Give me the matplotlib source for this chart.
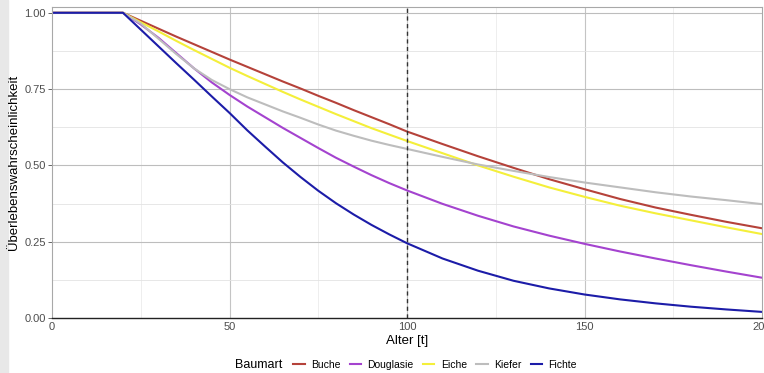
import matplotlib
matplotlib.use("Agg")
import matplotlib.pyplot as plt
from matplotlib.patches import Rectangle

plt.rcParams['font.family'] = ['Liberation Sans', 'DejaVu Sans']

# Alter [Jahre]
alter = [0, 20, 25, 30, 35, 40, 45, 50, 55, 60, 65, 70, 75, 80, 85, 90, 95,
         100, 110, 120, 130, 140, 150, 160, 170, 180, 190, 200]

# Ueberlebenswahrscheinlichkeit je Baumart
buche = [1.0, 1.0, 0.974, 0.948, 0.922, 0.897, 0.872, 0.847, 0.823, 0.799,
         0.775, 0.752, 0.728, 0.705, 0.681, 0.658, 0.635, 0.611,
         0.570, 0.530, 0.492, 0.455, 0.422, 0.390, 0.362, 0.338, 0.315, 0.294]
douglasie = [1.0, 1.0, 0.962, 0.918, 0.868, 0.818, 0.772, 0.731, 0.693,
             0.658, 0.623, 0.590, 0.557, 0.525, 0.496, 0.468, 0.442, 0.418,
             0.374, 0.335, 0.300, 0.270, 0.243, 0.218, 0.195, 0.173, 0.152,
             0.132]
eiche = [1.0, 1.0, 0.969, 0.939, 0.908, 0.878, 0.849, 0.820, 0.793, 0.767,
         0.741, 0.716, 0.692, 0.668, 0.645, 0.622, 0.601, 0.580,
         0.540, 0.500, 0.463, 0.428, 0.397, 0.368, 0.343, 0.320, 0.297, 0.275]
kiefer = [1.0, 1.0, 0.965, 0.915, 0.865, 0.818, 0.780, 0.750, 0.723, 0.700,
          0.677, 0.656, 0.634, 0.614, 0.597, 0.581, 0.567, 0.554,
          0.528, 0.503, 0.482, 0.462, 0.444, 0.428, 0.412, 0.398, 0.386,
          0.373]
fichte = [1.0, 1.0, 0.945, 0.890, 0.835, 0.781, 0.726, 0.672, 0.615, 0.562,
          0.510, 0.462, 0.417, 0.376, 0.339, 0.305, 0.274, 0.245,
          0.195, 0.155, 0.122, 0.097, 0.077, 0.061, 0.048, 0.037, 0.028,
          0.020]

namen = ["Buche", "Douglasie", "Eiche", "Kiefer", "Fichte"]
werte = [buche, douglasie, eiche, kiefer, fichte]
farben = ["#b5423a", "#a443cf", "#f4ef3a", "#bdbdbd", "#1c1ca8"]

fig = plt.figure(figsize=(7.64, 3.73), dpi=100)
ax = fig.add_axes([52/764, 1-318/373, 710/764, 311/373])

# Gitter
for v in [25, 75, 125, 175]:
    ax.axvline(v, color="#ebebeb", lw=0.6, zorder=0)
for v in [50, 100, 150]:
    ax.axvline(v, color="#c4c4c4", lw=0.8, zorder=0)
for v in [0.125, 0.375, 0.625, 0.875]:
    ax.axhline(v, color="#e3e3e3", lw=0.6, zorder=0)
for v in [0.25, 0.5, 0.75, 1.0]:
    ax.axhline(v, color="#bdbdbd", lw=0.8, zorder=0)

for n, w, c in zip(namen, werte, farben):
    ax.plot(alter, w, color=c, lw=1.5, label=n, solid_joinstyle="round")

ax.axvline(100, color="#333333", lw=1.0, ls=(0, (3, 2.5)), zorder=5)

ax.set_xlim(0, 200)
ax.set_ylim(0, 1.019)
ax.set_xticks([0, 50, 100, 150, 200])
ax.set_yticks([0, 0.25, 0.5, 0.75, 1.0])
ax.set_yticklabels(["0.00", "0.25", "0.50", "0.75", "1.00"])
ax.tick_params(axis="both", labelsize=8, colors="#4d4d4d", length=3,
               width=0.6, pad=1.5)
ax.tick_params(axis="x", length=0, pad=3)

for s in ["top", "right", "left"]:
    ax.spines[s].set_color("#a8a8a8")
    ax.spines[s].set_linewidth(0.8)
ax.spines["bottom"].set_color("#222222")
ax.spines["bottom"].set_linewidth(1.0)

ax.set_xlabel("Alter [t]", fontsize=9.5, labelpad=2)
ax.set_ylabel("Überlebenswahrscheinlichkeit", fontsize=9.5, labelpad=3)

fig.legend(loc="center", bbox_to_anchor=(435/764, 1-365/373), ncol=5,
           frameon=False, fontsize=7.5, handlelength=1.1, handletextpad=0.6,
           columnspacing=0.9)
fig.text(235/764, 1-365/373, "Baumart", fontsize=9, va="center", ha="left")

# grauer Rand links aus dem Screenshot
fig.patches.append(Rectangle((0, 0), 8/764, 1, transform=fig.transFigure,
                             color="#e8e8e8", zorder=-1))

fig.savefig("out.png", dpi=100)
